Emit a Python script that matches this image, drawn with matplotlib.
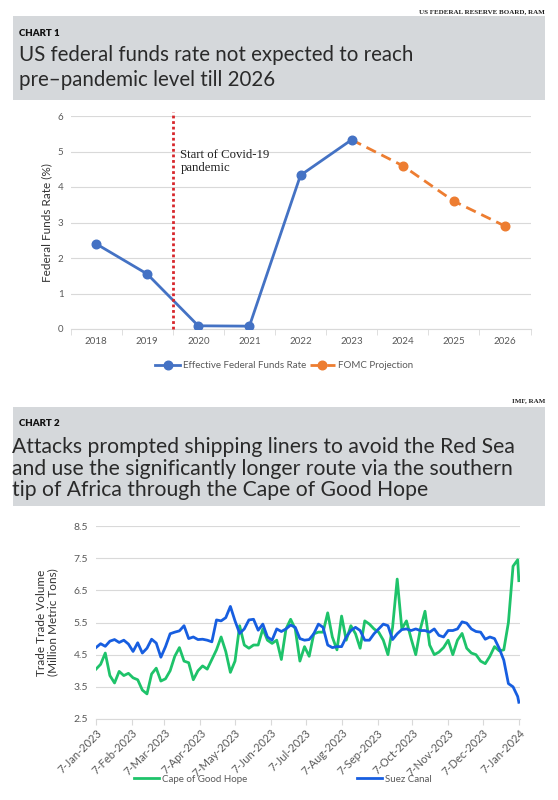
import matplotlib
matplotlib.use("Agg")
import matplotlib.pyplot as plt
import matplotlib.dates as mdates
from matplotlib.patches import Rectangle
from matplotlib.ticker import FuncFormatter, FixedLocator
import numpy as np
import pandas as pd

# Chart 1 data
years = ["2018", "2019", "2020", "2021", "2022", "2023", "2024", "2025", "2026"]
effr_years = ["2018", "2019", "2020", "2021", "2022", "2023"]
effr = [2.40, 1.55, 0.09, 0.08, 4.33, 5.33]
fomc_years = ["2023", "2024", "2025", "2026"]
fomc = [5.33, 4.60, 3.60, 2.90]
covid_after = "2019"

# Chart 2 data (4-day samples, last point 7-Jan-2024)
dates = pd.date_range("2023-01-07", periods=92, freq="4D").append(pd.DatetimeIndex(["2024-01-07"]))
suez = [4.72, 4.84, 4.76, 4.92, 4.97, 4.88, 4.95, 4.83, 4.60, 4.87,
        4.55, 4.70, 4.98, 4.86, 4.42, 4.75, 5.15, 5.20, 5.24, 5.40,
        5.00, 5.05, 4.97, 4.98, 4.95, 4.90, 5.58, 5.55, 5.65, 6.00,
        5.55, 5.16, 5.30, 5.58, 5.60, 5.26, 5.45, 5.05, 4.95, 5.30,
        5.22, 5.30, 5.42, 5.35, 5.00, 4.95, 4.97, 5.15, 5.45, 5.35,
        4.80, 4.72, 4.75, 4.75, 5.05, 5.25, 5.35, 5.25, 4.95, 4.95,
        5.15, 5.30, 5.45, 5.40, 4.97, 5.15, 5.28, 5.30, 5.25, 5.30,
        5.25, 5.25, 5.20, 5.30, 5.10, 5.05, 5.25, 5.25, 5.30, 5.52,
        5.48, 5.30, 5.22, 5.20, 4.98, 5.05, 5.00, 4.70, 4.33, 3.60,
        3.50, 3.20, 3.02]
cape = [4.05, 4.20, 4.55, 3.85, 3.62, 3.98, 3.85, 3.92, 3.78, 3.72,
        3.40, 3.28, 3.90, 4.08, 3.68, 3.75, 4.00, 4.45, 4.72, 4.30,
        4.25, 3.72, 4.00, 4.15, 4.05, 4.35, 4.65, 5.05, 4.60, 3.95,
        4.30, 5.40, 4.80, 4.70, 4.80, 4.80, 5.30, 4.95, 4.85, 4.95,
        4.35, 5.30, 5.60, 5.30, 4.30, 4.75, 4.45, 5.15, 5.20, 5.20,
        5.80, 5.05, 4.65, 5.70, 4.95, 5.40, 5.15, 4.70, 5.55, 5.45,
        5.30, 5.20, 4.95, 4.50, 5.35, 6.85, 5.30, 5.55, 5.00, 4.50,
        5.30, 5.85, 4.80, 4.50, 4.58, 4.72, 4.95, 4.50, 4.95, 5.16,
        4.70, 4.55, 4.50, 4.30, 4.22, 4.45, 4.75, 4.62, 4.65, 5.50,
        7.25, 7.45, 6.80]

W, H = 558, 800
fig = plt.figure(figsize=(W / 100, H / 100), dpi=100)
plt.rcParams["font.family"] = ["Lato", "DejaVu Sans"]


def fx(px):
    return px / W


def fy(py):
    return 1 - py / H


box_color = "#d5d8db"
tick_color = "#595959"
grid_color = "#d9d9d9"
title_color = "#2a2a2a"

# Header blocks
fig.text(fx(545), fy(12), "US FEDERAL RESERVE BOARD, RAM", ha="right", va="center",
         family="Liberation Serif", weight="bold", fontsize=5, color="#222222")
fig.patches.append(Rectangle((fx(13), fy(100)), fx(532), 84 / H, transform=fig.transFigure,
                             facecolor=box_color, edgecolor="none", zorder=0))
fig.text(fx(19), fy(33), "CHART 1", ha="left", va="center", weight="heavy", fontsize=7, color="#111111")
fig.text(fx(19), fy(55), "US federal funds rate not expected to reach", ha="left", va="center",
         fontsize=14.8, color=title_color)
fig.text(fx(19), fy(80), "pre\u2013pandemic level till 2026", ha="left", va="center",
         fontsize=14.8, color=title_color)

fig.text(fx(545), fy(401), "IMF, RAM", ha="right", va="center",
         family="Liberation Serif", weight="bold", fontsize=5, color="#222222")
fig.patches.append(Rectangle((fx(13), fy(506)), fx(532), 99 / H, transform=fig.transFigure,
                             facecolor=box_color, edgecolor="none", zorder=0))
fig.text(fx(19), fy(423), "CHART 2", ha="left", va="center", weight="heavy", fontsize=7, color="#111111")
for i, line in enumerate(["Attacks prompted shipping liners to avoid the Red Sea",
                          "and use the significantly longer route via the southern",
                          "tip of Africa through the Cape of Good Hope"]):
    fig.text(fx(12), fy(447 + i * 21.7), line, ha="left", va="center", fontsize=15.2, color=title_color)

# Chart 1
ax1 = fig.add_axes([fx(70.5), fy(329), fx(460), 213 / H])
ax1.plot(effr_years, effr, color="#4472c4", lw=2, marker="o", ms=6.2, zorder=3,
         label="Effective Federal Funds Rate")
ax1.plot(fomc_years, fomc, color="#ed7d31", lw=2, dashes=(3.8, 2.2), marker="o", ms=6.2,
         markevery=range(1, len(fomc)), zorder=2, label="FOMC Projection")
ax1.set_xlim(-0.5, len(years) - 0.5)
ax1.set_ylim(0, 6)
ax1.set_yticks(range(0, 7))
ax1.grid(axis="y", color=grid_color, lw=0.8)
ax1.set_axisbelow(True)
covid_x = years.index(covid_after) + 0.5
ax1.plot([covid_x, covid_x], [0, 6.1], color="#d7262b", lw=2, ls=(0, (1, 1)), clip_on=False, zorder=4)
ax1.text(covid_x + 0.15, 5.08, "Start of Covid-19\npandemic", ha="left", va="top",
         family="Liberation Serif", fontsize=9.2, color="#222222", linespacing=1.2)
for s in ["top", "right", "left"]:
    ax1.spines[s].set_visible(False)
ax1.spines["bottom"].set_color(grid_color)
ax1.tick_params(axis="y", length=0, labelsize=7, labelcolor=tick_color, pad=5)
ax1.tick_params(axis="x", which="major", length=0, labelsize=7, labelcolor=tick_color, pad=6)
ax1.xaxis.set_minor_locator(FixedLocator(np.arange(-0.5, len(years), 1.0)))
ax1.tick_params(axis="x", which="minor", length=4, color=grid_color)
ax1.set_ylabel("Federal Funds Rate (%)", fontsize=8.5, color="#333333", labelpad=4)
fig.legend(*ax1.get_legend_handles_labels(), loc="center", bbox_to_anchor=(fx(284), fy(366)),
           ncol=2, frameon=False, fontsize=7, handlelength=2.6, handletextpad=0.3,
           columnspacing=0.3, labelcolor=tick_color)

# Chart 2
ax2 = fig.add_axes([fx(96), fy(719), fx(424), 193 / H])
ax2.plot(dates, cape, color="#1ec36a", lw=2, label="Cape of Good Hope")
ax2.plot(dates, suez, color="#175ee0", lw=2, label="Suez Canal")
ax2.set_ylim(2.5, 8.5)
ax2.set_yticks(np.arange(2.5, 8.6, 1.0))
ax2.yaxis.set_major_formatter(FuncFormatter(lambda v, p: f"{v:.1f}"))
ax2.set_xlim(pd.Timestamp("2023-01-07"), pd.Timestamp("2024-01-08"))
ax2.xaxis.set_major_locator(mdates.MonthLocator(bymonthday=7))
ax2.xaxis.set_major_formatter(FuncFormatter(
    lambda v, p: f"{mdates.num2date(v).day}-{mdates.num2date(v):%b-%Y}"))
ax2.grid(axis="y", color=grid_color, lw=0.8)
ax2.set_axisbelow(True)
for s in ["top", "right", "left"]:
    ax2.spines[s].set_visible(False)
ax2.spines["bottom"].set_color(grid_color)
ax2.tick_params(axis="y", length=0, labelsize=7.5, labelcolor=tick_color, pad=5.5)
ax2.tick_params(axis="x", length=4, color=grid_color, labelsize=8, labelcolor=tick_color, pad=2)
plt.setp(ax2.get_xticklabels(), rotation=45, ha="right", rotation_mode="anchor")
ax2.set_ylabel("Trade Trade Volume\n(Million Metric Tons)", fontsize=8.5, color="#333333",
               labelpad=11, linespacing=1.1)
fig.legend(*ax2.get_legend_handles_labels(), loc="center", bbox_to_anchor=(fx(283), fy(779)),
           ncol=2, frameon=False, fontsize=7, handlelength=2.6, handletextpad=0.3,
           columnspacing=11.3, labelcolor=tick_color)

fig.savefig("out.png", dpi=100)
